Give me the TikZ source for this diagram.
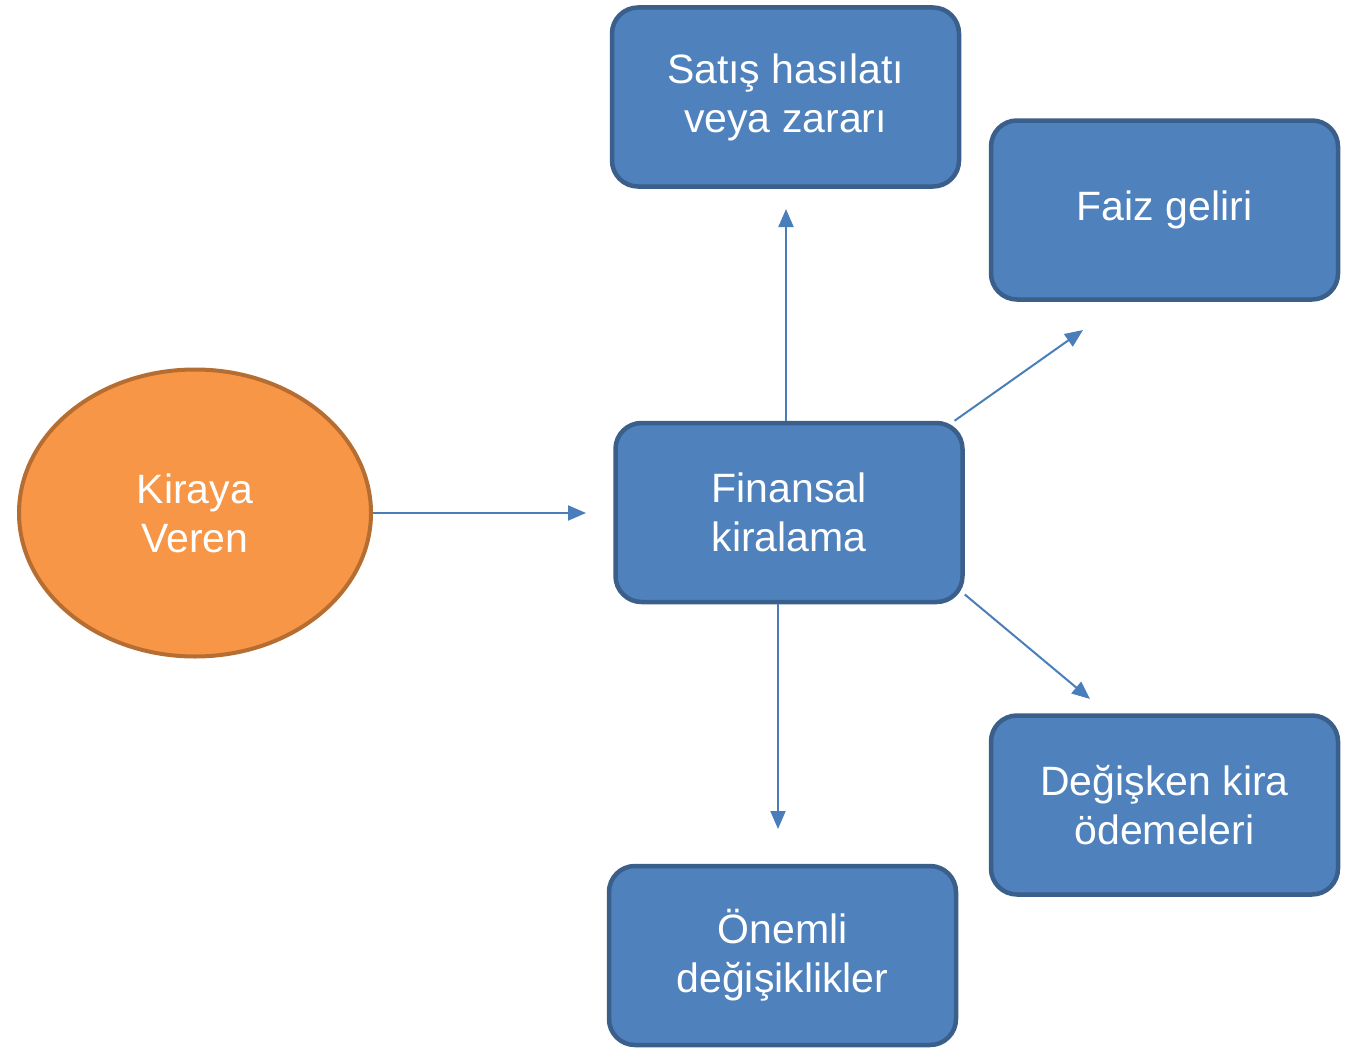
\documentclass[tikz,border=0pt]{standalone}
\usepackage{fontspec}
\setmainfont{Liberation Sans}
\usetikzlibrary{arrows.meta,shapes.geometric}
\definecolor{boxfill}{HTML}{4F81BD}
\definecolor{boxline}{HTML}{3A5F8B}
\definecolor{ovfill}{HTML}{F79646}
\definecolor{ovline}{HTML}{B66D31}
\definecolor{arrcol}{HTML}{4A7EBB}
\tikzset{
  bluebox/.style={rectangle, rounded corners=26pt, fill=boxfill, draw=boxline, line width=4.5pt,
    minimum width=347pt, minimum height=179pt, text=white, align=center,
    font=\fontsize{41}{49}\selectfont, inner sep=0pt},
  ovalnode/.style={ellipse, fill=ovfill, draw=ovline, line width=4pt,
    minimum width=352pt, minimum height=287pt, text=white, align=center,
    font=\fontsize{41}{49}\selectfont, inner sep=0pt},
  arr/.style={draw=arrcol, line width=2pt, -{Triangle[length=18pt,width=15pt]}}
}
\begin{document}
\begin{tikzpicture}[x=1pt,y=-1pt]
\useasboundingbox (0,0) rectangle (1352,1049);
\node[ovalnode] (kv) at (195,513) {Kiraya\\Veren};
\node[bluebox] (fk) at (789,512.5) {Finansal\\kiralama};
\node[bluebox] (sh) at (785.5,97) {Satış hasılatı\\veya zararı};
\node[bluebox] (fg) at (1164.5,210) {Faiz geliri};
\node[bluebox] (dk) at (1164.5,805) {Değişken kira\\ödemeleri};
\node[bluebox] (od) at (782.5,955.5) {Önemli\\değişiklikler};
\coordinate (t0) at (586,513);
\coordinate (t1) at (786,209);
\coordinate (t2) at (1083,330);
\coordinate (t3) at (1090,699);
\coordinate (t4) at (778,829);
\draw[arr] (kv.east) -- (t0);
\draw[arr] (fk.north -| t1) -- (t1);
\draw[arr] (fk.29) -- (t2);
\draw[arr] (fk.-25) -- (t3);
\draw[arr] (fk.south -| t4) -- (t4);
\end{tikzpicture}
\end{document}
